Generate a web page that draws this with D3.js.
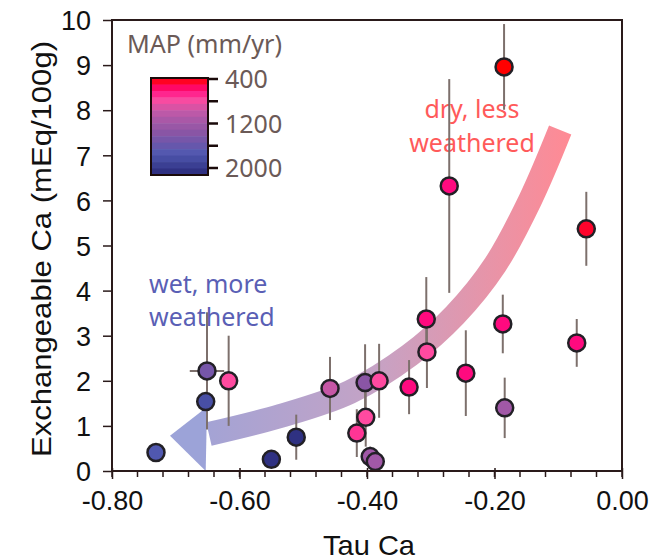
<!DOCTYPE html>
<head>
<meta charset="utf-8">
<script src="https://cdn.jsdelivr.net/npm/d3@7"></script>
<style>
  body { margin: 0; background: #fff; }
  svg { display: block; }
  .tick text { font-family: "Liberation Sans", Arial, sans-serif; }
</style>
</head>
<body>
<svg id="chart" width="652" height="560"></svg>
<script>
// samples: Tau Ca, exchangeable Ca, error bars, mean annual precip (colour)
var tau    = [-0.731, -0.651, -0.653, -0.617, -0.550, -0.511, -0.458, -0.403, -0.381, -0.402, -0.416, -0.395, -0.387,
              -0.334, -0.307, -0.306, -0.271, -0.245, -0.187, -0.184, -0.185, -0.071, -0.056]
var ca     = [0.41, 2.22, 1.54, 2.00, 0.26, 0.75, 1.83, 1.96, 2.00, 1.19, 0.84, 0.32, 0.21,
              1.86, 3.37, 2.64, 6.32, 2.17, 3.26, 1.40, 8.96, 2.84, 5.37]
var caErr  = [0, 1.30, 0, 1.00, 0, 0.50, 0.70, 0.85, 0.82, 0.65, 0.53, 0.22, 0,
              0.60, 0.93, 0.80, 2.37, 0.95, 0.65, 0.67, 0.95, 0.53, 0.82]
var tauErr = [0, 0.027, 0, 0, 0, 0, 0, 0, 0, 0, 0, 0, 0,
              0, 0, 0, 0, 0, 0, 0, 0, 0, 0]
var map    = [1650, 1420, 1720, 750, 1950, 1950, 950, 1300, 750, 750, 700, 1150, 1150,
              600, 600, 750, 600, 600, 600, 1150, 400, 600, 470]

var xTicks = [-0.8, -0.6, -0.4, -0.2, 0]
var yTicks = [0, 1, 2, 3, 4, 5, 6, 7, 8, 9, 10]
var mapTicks = [400, 800, 1200, 1600, 2000]
var mapLabels = [400, 1200, 2000]

// arrow centre line (tau, Ca) from dry end to wet end
var arrowLine = [[-0.097, 7.56], [-0.144, 6.01], [-0.199, 4.57], [-0.262, 3.46], [-0.333, 2.57],
                 [-0.427, 1.75], [-0.536, 1.22], [-0.648, 0.82]]
var arrowHead = [[-0.709, 0.78], [-0.651, 1.42], [-0.653, 0.0]]

var svg = d3.select('#chart')
var x = d3.scaleLinear().domain([-0.8, 0]).range([112, 622])
var y = d3.scaleLinear().domain([0, 10]).range([471, 20])

var color = d3.scaleLinear()
  .domain([400, 600, 750, 1000, 1300, 1650, 2000])
  .range(['#ff0000', '#ff0a7f', '#ff4aa0', '#b85aa8', '#8a55a5', '#5058b0', '#2a2a7a'])

// arrow gradient
var defs = svg.append('defs')
var grad = defs.append('linearGradient').attr('id', 'ag')
  .attr('gradientUnits', 'userSpaceOnUse')
  .attr('x1', 170).attr('x2', 570).attr('y1', 0).attr('y2', 0)
grad.append('stop').attr('offset', '0%').attr('stop-color', '#9ca3d8')
grad.append('stop').attr('offset', '50%').attr('stop-color', '#c4a3c6')
grad.append('stop').attr('offset', '100%').attr('stop-color', '#ff8a94')

svg.append('path')
  .datum(arrowLine)
  .attr('d', d3.line().x(function (d) { return x(d[0]) }).y(function (d) { return y(d[1]) }).curve(d3.curveCatmullRom))
  .attr('fill', 'none')
  .attr('stroke', 'url(#ag)')
  .attr('stroke-width', 24)

svg.append('polygon')
  .attr('points', arrowHead.map(function (d) { return x(d[0]) + ',' + y(d[1]) }).join(' '))
  .attr('fill', '#9ca3d8')

// annotations
var dry = svg.append('text').attr('fill', '#ff5a5a')
  .style('font-family', '"Noto Sans", sans-serif').style('font-size', '25px')
  .attr('text-anchor', 'middle')
dry.append('tspan').attr('x', 472).attr('y', 118).text('dry, less')
dry.append('tspan').attr('x', 472).attr('y', 152).text('weathered')

var wet = svg.append('text').attr('fill', '#5a5fb5')
  .style('font-family', '"Noto Sans", sans-serif').style('font-size', '25px')
wet.append('tspan').attr('x', 149).attr('y', 293).text('wet, more')
wet.append('tspan').attr('x', 149).attr('y', 326).text('weathered')

// error bars
var idx = d3.range(tau.length)
svg.append('g').selectAll('line.v').data(idx.filter(function (i) { return caErr[i] > 0 }))
  .enter().append('line')
  .attr('x1', function (i) { return x(tau[i]) }).attr('x2', function (i) { return x(tau[i]) })
  .attr('y1', function (i) { return y(ca[i] + caErr[i]) }).attr('y2', function (i) { return y(ca[i] - caErr[i]) })
  .attr('stroke', '#7d706c').attr('stroke-width', 2)
svg.append('g').selectAll('line.h').data(idx.filter(function (i) { return tauErr[i] > 0 }))
  .enter().append('line')
  .attr('x1', function (i) { return x(tau[i] - tauErr[i]) }).attr('x2', function (i) { return x(tau[i] + tauErr[i]) })
  .attr('y1', function (i) { return y(ca[i]) }).attr('y2', function (i) { return y(ca[i]) })
  .attr('stroke', '#7d706c').attr('stroke-width', 2)

// points
svg.append('g').selectAll('circle').data(idx)
  .enter().append('circle')
  .attr('cx', function (i) { return x(tau[i]) })
  .attr('cy', function (i) { return y(ca[i]) })
  .attr('r', 8.5)
  .attr('fill', function (i) { return color(map[i]) })
  .attr('stroke', '#222026').attr('stroke-width', 2.5)

// axes
var axisColor = '#2a1a1a'
var gx = svg.append('g').attr('transform', 'translate(0,471)')
  .call(d3.axisBottom(x).tickValues(xTicks).tickFormat(d3.format('.2f')).tickSize(8).tickPadding(12))
var gy = svg.append('g').attr('transform', 'translate(112,0)')
  .call(d3.axisLeft(y).tickValues(yTicks).tickFormat(d3.format('d')).tickSize(9).tickPadding(12))
gx.select('.domain').remove()
gy.select('.domain').remove()
// minor x ticks
gx.selectAll('line.minor').data(d3.range(-0.8, 0.001, 0.04)).enter().append('line')
  .attr('x1', function (d) { return x(d) }).attr('x2', function (d) { return x(d) })
  .attr('y1', 0).attr('y2', 6).attr('stroke', axisColor).attr('stroke-width', 1.5)
gx.selectAll('.tick line').attr('y1', -3)
;[gx, gy].forEach(function (g) {
  g.selectAll('.tick line').attr('stroke', axisColor).attr('stroke-width', 1.5)
  g.selectAll('.tick text').attr('fill', '#111').style('font-size', '27px')
})
gx.selectAll('.tick text').text(function (d) { return d3.format('.2f')(d).replace('−', '-') })
gy.selectAll('.tick text').attr('dy', '0.36em')

// frame
svg.append('rect').attr('x', 112).attr('y', 20).attr('width', 510).attr('height', 451)
  .attr('fill', 'none').attr('stroke', axisColor).attr('stroke-width', 2)

// axis titles
svg.append('text').attr('x', 369).attr('y', 555).attr('text-anchor', 'middle')
  .style('font-family', '"Liberation Sans", Arial, sans-serif').style('font-size', '28px')
  .attr('textLength', 92).attr('lengthAdjust', 'spacingAndGlyphs')
  .attr('fill', '#111').text('Tau Ca')
svg.append('text').attr('transform', 'translate(51,249) rotate(-90)').attr('text-anchor', 'middle')
  .style('font-family', '"Liberation Sans", Arial, sans-serif').style('font-size', '28px')
  .attr('textLength', 416).attr('lengthAdjust', 'spacingAndGlyphs')
  .attr('fill', '#111').text('Exchangeable Ca (mEq/100g)')

// colour legend
var legColor = '#6b5a57'
svg.append('text').attr('x', 127).attr('y', 53)
  .style('font-family', '"Noto Sans", sans-serif').style('font-size', '25px')
  .attr('textLength', 155).attr('lengthAdjust', 'spacingAndGlyphs')
  .attr('fill', legColor).text('MAP (mm/yr)')
var ly = d3.scaleLinear().domain([400, 2000]).range([79, 168])
var nBands = 15
var bandH = (175 - 78) / nBands
svg.append('g').selectAll('rect').data(d3.range(nBands)).enter().append('rect')
  .attr('x', 151).attr('width', 57)
  .attr('y', function (i) { return 78 + i * bandH }).attr('height', bandH + 0.5)
  .attr('fill', function (i) { return color(400 + (i + 0.5) * 1600 / nBands) })
svg.append('rect').attr('x', 151).attr('y', 78).attr('width', 57).attr('height', 97)
  .attr('fill', 'none').attr('stroke', '#1a0a0a').attr('stroke-width', 2)
svg.append('g').selectAll('line').data(mapTicks).enter().append('line')
  .attr('x1', 208).attr('x2', 218)
  .attr('y1', function (d) { return ly(d) }).attr('y2', function (d) { return ly(d) })
  .attr('stroke', '#1a0a0a').attr('stroke-width', 2.5)
svg.append('g').selectAll('text').data(mapLabels).enter().append('text')
  .attr('x', 225).attr('y', function (d) { return ly(d) }).attr('dy', '0.36em')
  .style('font-family', '"Noto Sans", sans-serif').style('font-size', '25px')
  .attr('fill', legColor).text(function (d) { return d })
</script>
</body>
